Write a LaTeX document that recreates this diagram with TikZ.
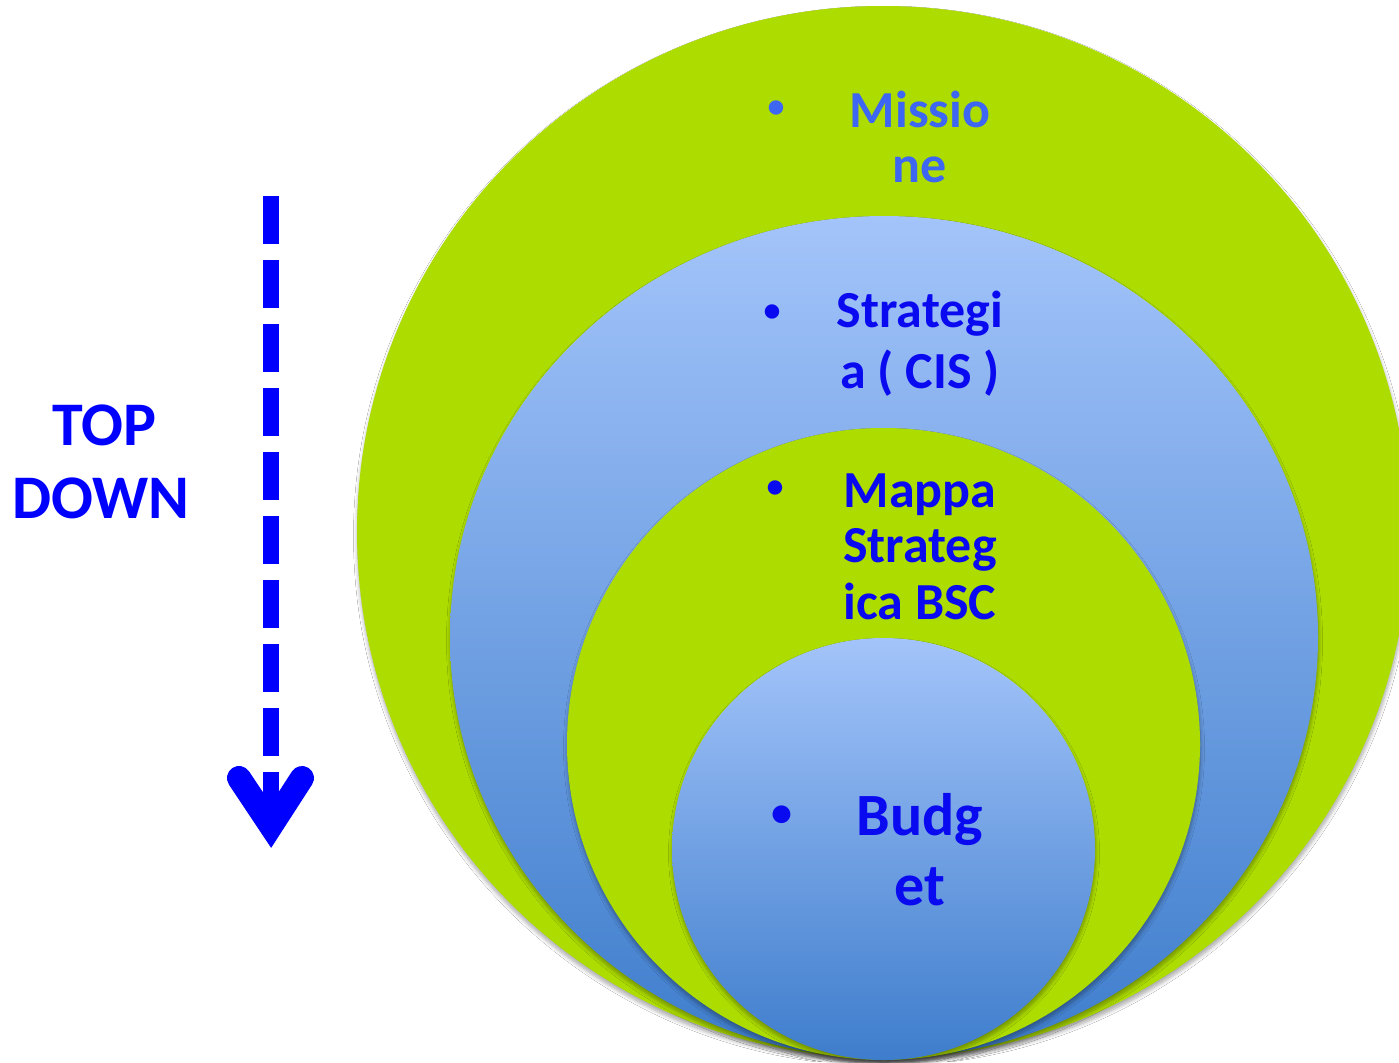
\documentclass[tikz,border=0pt]{standalone}
\usepackage{fontspec}
\setmainfont{Carlito}
\usetikzlibrary{shapes.geometric,shadows.blur}
\definecolor{lime}{HTML}{ADDC00}
\definecolor{skytop}{HTML}{A3C4FA}
\definecolor{skybot}{HTML}{3E7DCC}
\definecolor{inkblue}{HTML}{0A0AF0}
\definecolor{softblue}{HTML}{3D66F2}
\definecolor{arrowblue}{HTML}{0000FF}
\begin{document}
\begin{tikzpicture}[x=1pt,y=-1pt,
  disc/.style={ellipse, inner sep=0pt, draw=none,
    blur shadow={shadow xshift=0.5pt, shadow yshift=-4pt, shadow blur radius=4pt,
                 shadow blur steps=8, shadow opacity=35}},
  green disc/.style={disc, fill=lime},
  blue disc/.style={disc, top color=skytop, bottom color=skybot},
  txt/.style={anchor=base, inner sep=0pt, font=\bfseries\fontsize{52}{52}\selectfont},
  bigtxt/.style={txt, font=\bfseries\fontsize{60}{60}\selectfont},
  dot/.style={anchor=center, inner sep=0pt, font=\bfseries\fontsize{34}{34}\selectfont},
  bigdot/.style={dot, font=\bfseries\fontsize{42}{42}\selectfont},
  sidetxt/.style={txt, text=arrowblue, font=\bfseries\fontsize{62}{62}\selectfont},
]
\useasboundingbox[fill=white] (0,0) rectangle (1399,1062);
\clip (0,0) rectangle (1399,1062);

% nested discs
\node[green disc, minimum width=1052pt, minimum height=1052pt] (mission) at (883,532) {};
\node[blue disc,  minimum width=868pt,  minimum height=842pt]  (strategy) at (884,637) {};
\node[green disc, minimum width=633pt,  minimum height=632pt]  (map) at (883.5,744) {};
\node[blue disc,  minimum width=423pt,  minimum height=422pt]  (budget) at (883.5,849) {};

% labels
\node[dot, text=softblue] (b1) at (776,109) {•};
\node[txt, text=softblue] (m1) at (920,128) {Missio};
\node[txt, text=softblue] (m2) at (920,182) {ne};

\node[dot, text=inkblue] (b2) at (772,313) {•};
\node[txt, text=inkblue] (s1) at (920,327) {Strategi};
\node[txt, text=inkblue] (s2) at (920,388) {a ( CIS )};

\node[dot, text=inkblue] (b3) at (775,489) {•};
\node[txt, text=inkblue] (p1) at (920,507) {Mappa};
\node[txt, text=inkblue] (p2) at (920,562) {Strateg};
\node[txt, text=inkblue] (p3) at (920,619) {ica BSC};

\node[bigdot, text=inkblue] (b4) at (782,816) {•};
\node[bigtxt, text=inkblue] (g1) at (920,835) {Budg};
\node[bigtxt, text=inkblue] (g2) at (920,905) {et};

\node[sidetxt] (top) at (104,445) {TOP};
\node[sidetxt] (down) at (101,518) {DOWN};

% dashed top-down arrow
\coordinate (a0) at (271,196);
\coordinate (a1) at (271,812);
\coordinate (hl) at (239,778);
\coordinate (tip) at (271,826);
\coordinate (hr) at (302,778);
\draw[arrowblue, line width=16pt, dash pattern=on 48pt off 16pt] (a0) -- (a1);
\draw[arrowblue, line width=24pt, line cap=round, line join=miter] (hl) -- (tip) -- (hr);
\end{tikzpicture}
\end{document}
